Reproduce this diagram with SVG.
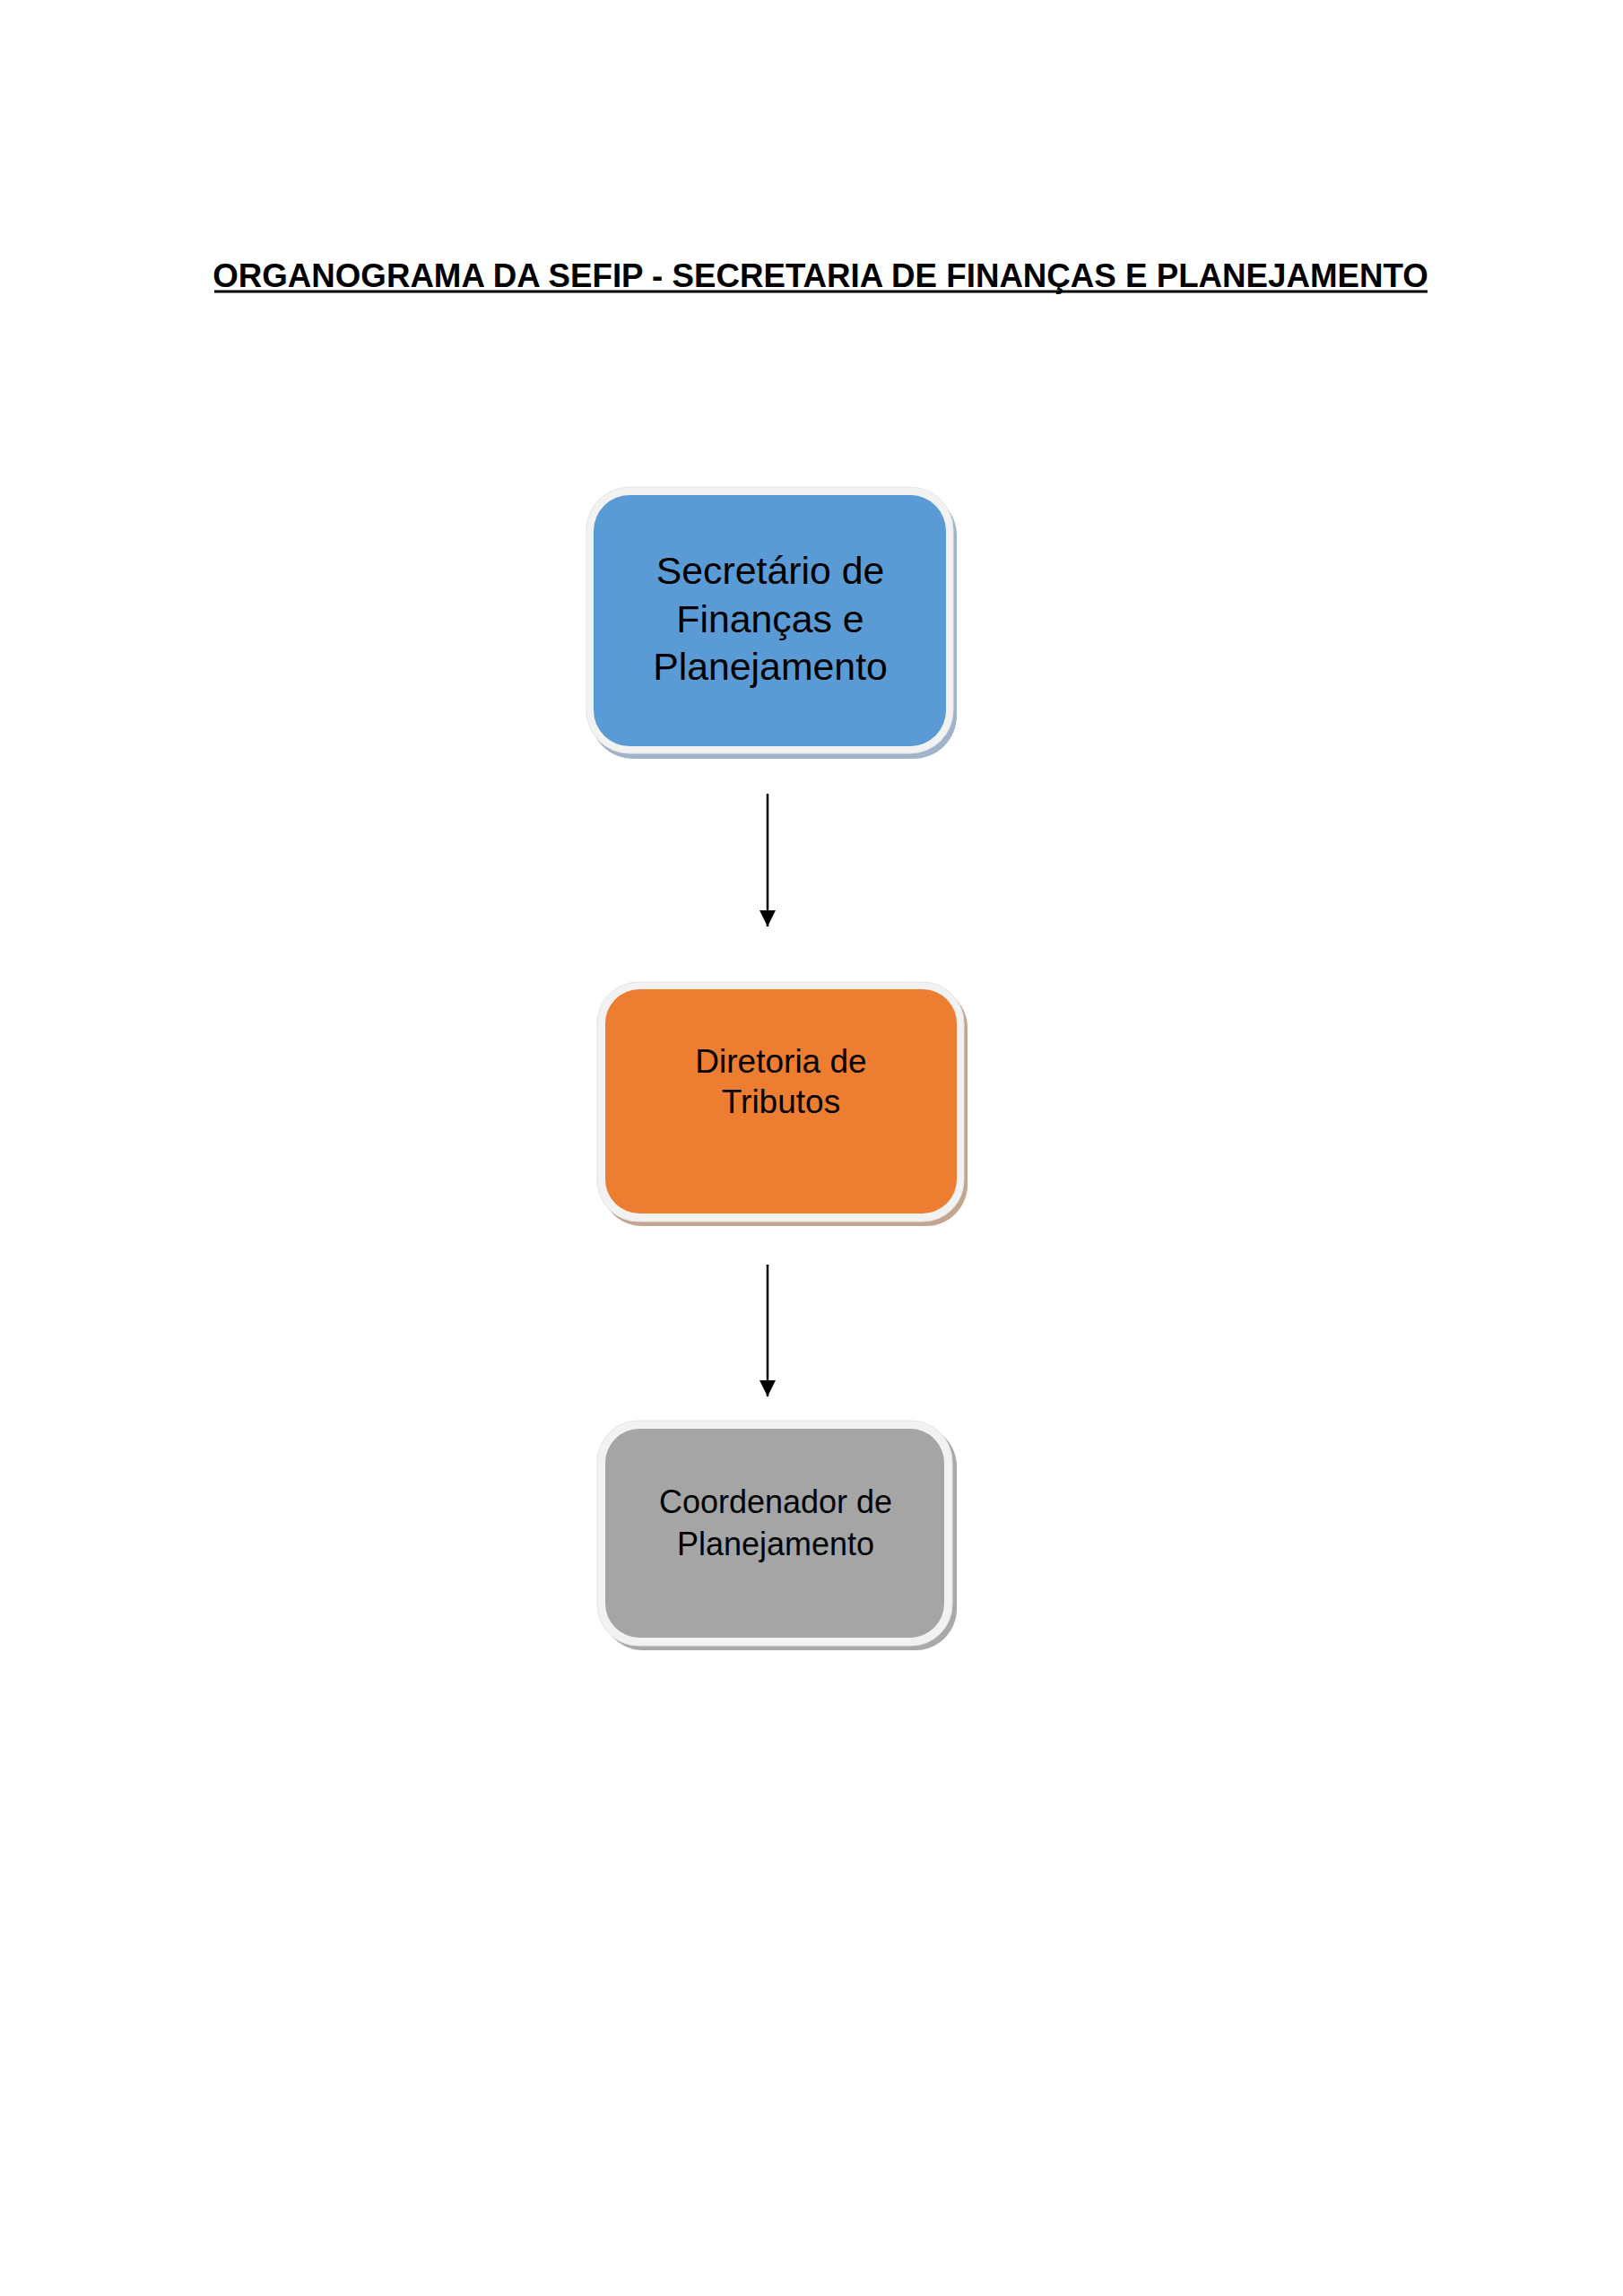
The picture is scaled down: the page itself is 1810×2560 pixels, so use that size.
<svg xmlns="http://www.w3.org/2000/svg" width="1810" height="2560" viewBox="0 0 1810 2560">
  <defs>
    <style>
      .title { font-family: "Liberation Sans", Arial, sans-serif; font-weight: bold; font-size: 36.7px; fill: #000000; }
      .lbl { font-family: "Liberation Sans", Arial, sans-serif; fill: #000000; text-anchor: middle; }
      .rim { fill: #f2f2f2; stroke: #e4e4e4; stroke-width: 1; }
      .conn { stroke: #000000; stroke-width: 2.5; fill: none; }
    </style>
    <marker id="arrow" viewBox="0 0 10 10" refX="10" refY="5" markerUnits="userSpaceOnUse" markerWidth="18" markerHeight="18" orient="auto">
      <path d="M0,0 L10,5 L0,10 Z" fill="#000000"/>
    </marker>
  </defs>
  <rect x="0" y="0" width="1810" height="2560" fill="#ffffff"/>

  <g id="title">
    <text class="title" x="915" y="320" text-anchor="middle">ORGANOGRAMA DA SEFIP - SECRETARIA DE FINANÇAS E PLANEJAMENTO</text>
    <line x1="239" y1="325" x2="1592" y2="325" stroke="#000000" stroke-width="3"/>
  </g>

  <g id="connectors">
    <line class="conn" x1="856" y1="885" x2="856" y2="1033" marker-end="url(#arrow)"/>
    <line class="conn" x1="856" y1="1410" x2="856" y2="1557" marker-end="url(#arrow)"/>
  </g>

  <g id="node-secretario">
    <rect x="658" y="549" width="409" height="297" rx="48" fill="#a0b3ca"/>
    <rect class="rim" x="654" y="543" width="409" height="297" rx="48"/>
    <rect x="662" y="552" width="393" height="280" rx="40" fill="#5b9bd5"/>
    <text class="lbl" font-size="42.8" x="859" y="651">Secretário de</text>
    <text class="lbl" font-size="42.8" x="859" y="705">Finanças e</text>
    <text class="lbl" font-size="42.8" x="859" y="758">Planejamento</text>
  </g>

  <g id="node-diretoria">
    <rect x="670" y="1100" width="409" height="267" rx="46" fill="#c4a58f"/>
    <rect class="rim" x="666" y="1095" width="409" height="267" rx="46"/>
    <rect x="675" y="1103" width="392" height="250" rx="38" fill="#ed7d31"/>
    <text class="lbl" font-size="37" x="871" y="1196">Diretoria de</text>
    <text class="lbl" font-size="37" x="871" y="1241">Tributos</text>
  </g>

  <g id="node-coordenador">
    <rect x="671" y="1589" width="396" height="251" rx="46" fill="#a9a9a9"/>
    <rect class="rim" x="666" y="1584" width="396" height="251" rx="46"/>
    <rect x="675" y="1593" width="378" height="233" rx="38" fill="#a5a5a5"/>
    <text class="lbl" font-size="36" x="865" y="1687">Coordenador de</text>
    <text class="lbl" font-size="36" x="865" y="1734">Planejamento</text>
  </g>
</svg>
